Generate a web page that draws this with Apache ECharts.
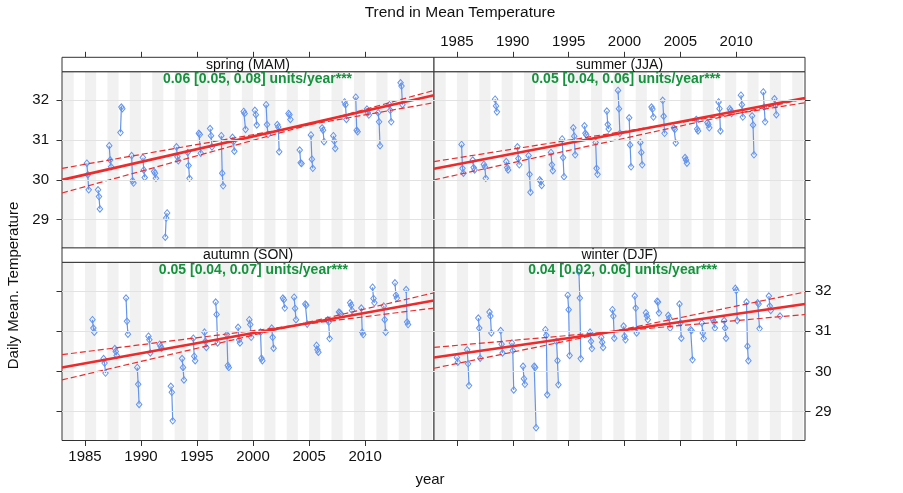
<!DOCTYPE html>
<html>
<head>
<meta charset="utf-8">
<title>Trend in Mean Temperature</title>
<script src="https://cdn.jsdelivr.net/npm/echarts@6/dist/echarts.min.js"></script>
<style>
    html, body { margin: 0; padding: 0; background: #fff; }
    #container { width: 903px; height: 493px; }
</style>
</head>
<body>
<div id="container"></div>
<script>
// --- data ---
var years = [1985, 1986, 1987, 1988, 1989, 1990, 1991, 1992, 1993, 1994, 1995, 1996, 1997, 1998, 1999,
             2000, 2001, 2002, 2003, 2004, 2005, 2006, 2007, 2008, 2009, 2010, 2011, 2012, 2013];
var winterYears = [1985, 1986, 1987, 1988, 1989, 1990, 1991, 1992, 1993, 1994, 1995, 1996, 1997, 1998, 1999,
                   2000, 2001, 2002, 2003, 2004, 2005, 2006, 2007, 2008, 2009, 2010, 2011, 2012, 2013, 2014];

// three monthly means per season and year
var springVals = [
    [30.42, 30.13, 29.75], [29.75, 29.58, 29.27], [30.86, 30.50, 30.33], [31.19, 31.83, 31.79],
    [30.61, 29.98, 29.92], [30.56, 30.25, 30.06], [30.21, 30.17, 30.04], [28.56, 29.04, 29.17],
    [30.83, 30.58, 30.48], [30.69, 30.36, 30.04], [31.17, 31.14, 30.67], [31.29, 31.11, 30.83],
    [31.11, 30.17, 29.85], [31.07, 30.96, 30.72], [31.72, 31.67, 31.27], [31.75, 31.64, 31.38],
    [31.89, 31.39, 31.14], [31.39, 31.33, 30.71], [31.67, 31.64, 31.52], [30.75, 30.43, 30.41],
    [31.13, 30.52, 30.29], [31.31, 31.25, 30.96], [31.11, 30.98, 30.79], [31.96, 31.89, 31.52],
    [32.08, 31.25, 31.21], [31.78, 31.69, 31.63], [31.69, 31.46, 30.86], [31.89, 31.75, 31.46],
    [32.44, 32.36, 31.89]
];
var summerVals = [
    [30.89, 30.29, 30.17], [30.50, 30.31, 30.25], [30.39, 30.33, 30.04], [32.03, 31.86, 31.71],
    [30.46, 30.31, 30.25], [30.83, 30.54, 30.38], [30.61, 30.14, 29.69], [30.00, 29.96, 29.86],
    [30.69, 30.38, 30.23], [31.03, 30.56, 30.08], [31.31, 31.10, 30.63], [31.36, 31.17, 31.13],
    [30.94, 30.29, 30.14], [31.73, 31.39, 31.28], [32.25, 31.79, 31.17], [31.56, 30.88, 30.33],
    [30.94, 30.69, 30.38], [31.83, 31.78, 31.58], [32.00, 31.60, 31.17], [31.31, 31.27, 30.93],
    [30.56, 30.50, 30.42], [31.52, 31.28, 31.23], [31.44, 31.39, 31.31], [31.96, 31.79, 31.23],
    [31.79, 31.75, 31.67], [32.13, 31.89, 31.58], [31.61, 31.38, 30.63], [32.21, 31.83, 31.46],
    [32.04, 31.88, 31.64]
];
var autumnVals = [
    [31.29, 31.08, 30.98], [30.32, 30.21, 29.96], [30.57, 30.50, 30.40], [31.83, 31.25, 30.93],
    [30.10, 29.68, 29.18], [30.88, 30.79, 30.46], [30.68, 30.63, 30.58], [29.63, 29.48, 28.77],
    [30.32, 30.10, 29.79], [30.83, 30.38, 30.27], [30.98, 30.75, 30.60], [31.73, 31.42, 30.71],
    [30.92, 30.15, 30.10], [31.10, 30.79, 30.71], [31.29, 31.17, 30.85], [30.98, 30.33, 30.27],
    [31.08, 30.85, 30.58], [31.83, 31.79, 31.58], [31.85, 31.57, 31.29], [31.68, 31.65, 31.18],
    [30.65, 30.54, 30.48], [31.29, 31.23, 30.82], [31.48, 31.46, 31.43], [31.71, 31.65, 31.52],
    [31.58, 30.98, 30.92], [32.10, 31.82, 31.71], [31.63, 31.29, 30.98], [32.21, 31.90, 31.83],
    [32.04, 31.23, 31.17]
];
// winter: Dec (previous year), Jan, Feb
var winterVals = [
    [null, 30.35, 30.23], [30.54, 30.19, 29.65], [31.33, 31.08, 30.33], [31.48, 31.38, 30.96],
    [31.02, 30.68, 30.46], [30.71, 30.52, 29.54], [30.13, 29.82, 29.68], [30.13, 30.10, 28.60],
    [31.04, 30.90, 29.42], [30.75, 30.27, 29.67], [31.90, 31.54, 30.40], [32.48, 31.83, 30.32],
    [30.98, 30.75, 30.57], [30.85, 30.73, 30.60], [31.54, 31.38, 30.83], [31.13, 30.88, 30.79],
    [31.88, 31.58, 30.96], [31.46, 31.38, 31.29], [31.75, 31.73, 31.46], [31.40, 31.33, 31.08],
    [31.68, 31.21, 30.83], [31.04, 31.02, 30.29], [31.21, 30.96, 30.82], [31.29, 31.23, 31.08],
    [31.27, 31.08, 30.83], [32.07, 32.02, 31.27], [31.73, 30.63, 30.27], [31.71, 31.68, 31.07],
    [31.88, 31.63, 31.52], [31.38, null, null]
];

// trend line and the two confidence-limit lines, value at left and right panel edge
var springTrend = [30.00, 32.13], springLow = [30.29, 31.94], springHigh = [29.67, 32.25];
var summerTrend = [30.28, 32.06], summerLow = [30.46, 31.94], summerHigh = [30.00, 32.04];
var autumnTrend = [30.10, 31.77], autumnLow = [30.42, 31.58], autumnHigh = [29.79, 31.96];
var winterTrend = [30.35, 31.68], winterLow = [30.60, 31.42], winterHigh = [30.08, 31.98];

var slopeLabels = [
    '0.06 [0.05, 0.08] units/year***',
    '0.05 [0.04, 0.06] units/year***',
    '0.05 [0.04, 0.07] units/year***',
    '0.04 [0.02, 0.06] units/year***'
];
var stripNames = ['spring (MAM)', 'summer (JJA)', 'autumn (SON)', 'winter (DJF)'];
var xTicks = [1985, 1990, 1995, 2000, 2005, 2010];
var yTicks = [29, 30, 31, 32];

// --- layout ---
var xMin = 1982.95, xMax = 2016.15;
var yMin = 28.28, yMax = 32.72;
var FONT = "'Liberation Sans', Arial, sans-serif";
var BLUE = '#6495ED', RED = '#ee2a2a', GREEN = '#14923c';
var stripH = 14.4;
var boxes = [
    {left: 62, top: 71.7, width: 372, height: 176.6},
    {left: 434, top: 71.7, width: 371, height: 176.6},
    {left: 62, top: 262.3, width: 372, height: 178.2},
    {left: 434, top: 262.3, width: 371, height: 178.2}
];
var noteX = [257.5, 626, 253.4, 622.7];

function monthPoints(yrs, vals, months) {
    var out = [];
    yrs.forEach(function (y, i) {
        vals[i].forEach(function (v, j) {
            if (v !== null) out.push([y + months[j] / 12, v]);
        });
        out.push([y + 0.5, '-']);
    });
    return out;
}

var pointData = [
    monthPoints(years, springVals, [2, 3, 4]),
    monthPoints(years, summerVals, [5, 6, 7]),
    monthPoints(years, autumnVals, [8, 9, 10]),
    monthPoints(winterYears, winterVals, [-1, 0, 1])
];
var trends = [
    [springTrend, springLow, springHigh],
    [summerTrend, summerLow, summerHigh],
    [autumnTrend, autumnLow, autumnHigh],
    [winterTrend, winterLow, winterHigh]
];

var stripes = [];
for (var s = 1983; s < xMax; s += 2) {
    stripes.push([{xAxis: s}, {xAxis: Math.min(s + 1, xMax)}]);
}

var grids = [], xAxes = [], yAxes = [], series = [], graphics = [];

boxes.forEach(function (b, i) {
    var isTop = i < 2, isLeft = i % 2 === 0;
    grids.push({
        left: b.left, top: b.top, width: b.width, height: b.height,
        show: true, borderColor: '#333', borderWidth: 1, backgroundColor: '#fff'
    });
    xAxes.push({
        type: 'value', gridIndex: i, min: xMin, max: xMax,
        position: isTop ? 'top' : 'bottom',
        offset: isTop ? stripH : 0,
        axisLine: {show: false},
        splitLine: {show: false},
        axisTick: {show: true, length: 5.5, customValues: xTicks, lineStyle: {color: '#333'}},
        axisLabel: {
            show: (i === 1 || i === 2), customValues: xTicks, margin: isTop ? 8 : 9,
            color: '#111', fontSize: 15, fontFamily: FONT,
            formatter: function (v) { return String(v); }
        }
    });
    yAxes.push({
        type: 'value', gridIndex: i, min: yMin, max: yMax,
        position: isLeft ? 'left' : 'right',
        axisLine: {show: false},
        splitLine: {show: false},
        axisTick: {show: true, length: 5.5, customValues: yTicks, lineStyle: {color: '#333'}},
        axisLabel: {
            show: (i === 0 || i === 3), customValues: yTicks, margin: isLeft ? 13 : 10,
            color: '#111', fontSize: 15, fontFamily: FONT
        }
    });

    // background: year shading and reference lines
    series.push({
        type: 'line', xAxisIndex: i, yAxisIndex: i, data: [], z: 1, silent: true,
        markArea: {silent: true, itemStyle: {color: 'rgba(0,0,0,0.055)'}, data: stripes},
        markLine: {
            silent: true, symbol: ['none', 'none'], label: {show: false},
            lineStyle: {color: '#e2e2e2', width: 1, type: 'solid'},
            data: yTicks.map(function (v) { return {yAxis: v}; })
        }
    });
    // monthly points
    series.push({
        type: 'line', xAxisIndex: i, yAxisIndex: i, data: pointData[i], z: 3,
        connectNulls: false, showAllSymbol: true,
        symbol: 'diamond', symbolSize: [5.5, 6.5],
        lineStyle: {color: BLUE, width: 1.2},
        itemStyle: {color: 'rgba(255,255,255,0)', borderColor: BLUE, borderWidth: 1}
    });
    // trend + limits
    trends[i].forEach(function (t, k) {
        series.push({
            type: 'line', xAxisIndex: i, yAxisIndex: i, z: 4, symbol: 'none',
            data: [[xMin, t[0]], [xMax, t[1]]],
            lineStyle: k === 0 ? {color: RED, width: 2.6} : {color: RED, width: 1.2, type: [6, 3]}
        });
    });

    // strip above each panel
    var stripTop = b.top - stripH;
    graphics.push({
        type: 'rect', z: 10,
        shape: {x: b.left, y: stripTop, width: b.width, height: stripH},
        style: {fill: '#fff', stroke: '#333', lineWidth: 1}
    });
    graphics.push({
        type: 'text', z: 11, x: b.left + b.width / 2, y: stripTop + stripH / 2 + 0.5,
        style: {text: stripNames[i], font: '14px ' + FONT, fill: '#111',
                textAlign: 'center', textVerticalAlign: 'middle'}
    });
    graphics.push({
        type: 'text', z: 11, x: noteX[i], y: b.top + 7.5,
        style: {text: slopeLabels[i], font: 'bold 14px ' + FONT, fill: GREEN,
                textAlign: 'center', textVerticalAlign: 'middle'}
    });
});

graphics.push({
    type: 'text', x: 460, y: 12.7,
    style: {text: 'Trend in Mean Temperature', font: '15.5px ' + FONT, fill: '#111',
            textAlign: 'center', textVerticalAlign: 'middle'}
});
graphics.push({
    type: 'text', x: 430, y: 480,
    style: {text: 'year', font: '15px ' + FONT, fill: '#111',
            textAlign: 'center', textVerticalAlign: 'middle'}
});
graphics.push({
    type: 'text', x: 14, y: 285.5, rotation: Math.PI / 2,
    style: {text: 'Daily Mean. Temperature', font: '15px ' + FONT, fill: '#111',
            textAlign: 'center', textVerticalAlign: 'middle'}
});

var myChart = echarts.init(document.getElementById('container'));
myChart.setOption({
    animation: false,
    backgroundColor: '#fff',
    grid: grids,
    xAxis: xAxes,
    yAxis: yAxes,
    series: series,
    graphic: graphics
});
</script>
</body>
</html>
